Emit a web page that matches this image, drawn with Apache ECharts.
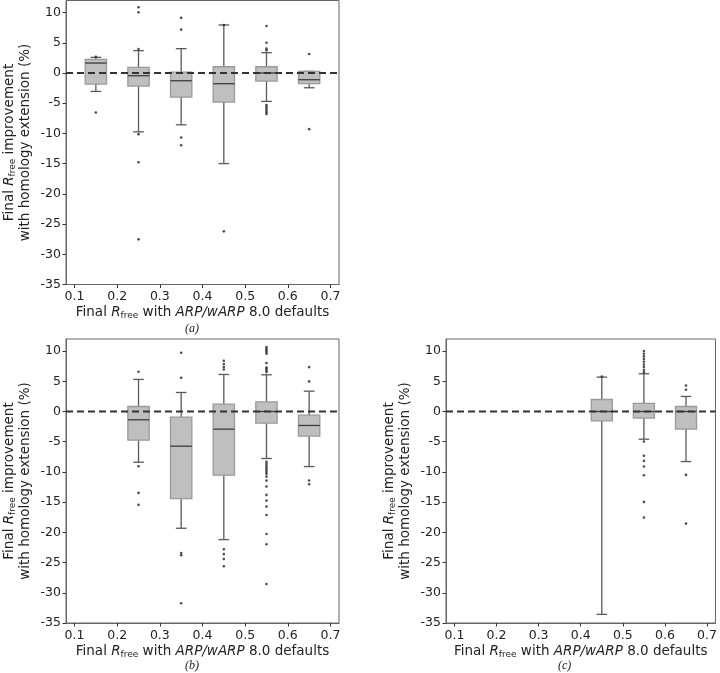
<!DOCTYPE html>
<html><head><meta charset="utf-8">
<script src="https://cdn.jsdelivr.net/npm/echarts@6/dist/echarts.min.js"></script>
<style>html,body{margin:0;padding:0;background:#fff}#c{width:720px;height:673px}</style>
</head><body><div id="c"></div>
<script>
const xTicks = [0.1, 0.2, 0.3, 0.4, 0.5, 0.6, 0.7];
const yTicks = [-35, -30, -25, -20, -15, -10, -5, 0, 5, 10];
// [position, lower whisker, Q1, median, Q3, upper whisker]
const boxesA = [
  [0.15, -3.05, -1.83, 1.65, 2.26, 2.59],
  [0.25, -9.73, -2.16, -0.45, 0.93, 3.70],
  [0.35, -8.57, -3.99, -1.28, 0.16, 4.03],
  [0.45, -14.99, -4.81, -1.77, 1.04, 7.95],
  [0.55, -4.70, -1.33, 0.0, 1.04, 3.37],
  [0.65, -2.44, -1.77, -1.11, 0.27, 0.27]
];
const outliersA = [[0.15,2.7],[0.15,-6.53],[0.25,10.88],[0.25,10.06],[0.25,3.97],[0.25,-10.12],[0.25,-14.77],[0.25,-27.53],[0.35,9.12],[0.35,7.18],[0.35,-10.67],[0.35,-11.95],[0.45,7.95],[0.45,-26.2],[0.55,7.79],[0.55,5.02],[0.55,4.03],[0.55,3.75],[0.55,-5.3],[0.55,-5.6],[0.55,-5.9],[0.55,-6.2],[0.55,-6.5],[0.55,-6.8],[0.65,3.15],[0.65,-9.29]];
const boxesB = [
  [0.25, -8.39, -4.74, -1.37, 0.83, 5.31],
  [0.35, -19.32, -14.41, -5.74, -0.93, 3.15],
  [0.45, -21.2, -10.54, -2.92, 1.22, 6.13],
  [0.55, -7.78, -1.93, 0.0, 1.6, 6.08],
  [0.65, -9.11, -4.08, -2.31, -0.61, 3.37]
];
const outliersB = [[0.25,6.58],[0.25,-9.05],[0.25,-13.47],[0.25,-15.45],[0.35,9.72],[0.35,5.58],[0.35,-23.41],[0.35,-23.79],[0.35,-31.74],[0.45,8.4],[0.45,7.85],[0.45,7.35],[0.45,6.96],[0.45,-22.8],[0.45,-23.6],[0.45,-24.4],[0.45,-25.6],[0.55,10.66],[0.55,10.39],[0.55,10.11],[0.55,9.83],[0.55,9.56],[0.55,8.01],[0.55,7.29],[0.55,7.07],[0.55,6.8],[0.55,6.52],[0.55,-8.33],[0.55,-8.66],[0.55,-9.0],[0.55,-9.33],[0.55,-9.66],[0.55,-9.99],[0.55,-10.32],[0.55,-10.77],[0.55,-11.43],[0.55,-12.42],[0.55,-13.8],[0.55,-14.74],[0.55,-15.74],[0.55,-17.12],[0.55,-20.26],[0.55,-21.97],[0.55,-28.54],[0.65,7.35],[0.65,4.98],[0.65,-11.42],[0.65,-12.03]];
const boxesC = [
  [0.45, -33.57, -1.54, 0.0, 1.99, 5.69],
  [0.55, -4.58, -1.1, 0.0, 1.33, 6.25],
  [0.65, -8.28, -2.92, 0.0, 0.83, 2.49]
];
const outliersC = [[0.45,5.8],[0.55,10.0],[0.55,9.56],[0.55,9.12],[0.55,8.67],[0.55,8.23],[0.55,7.79],[0.55,7.35],[0.55,6.85],[0.55,6.47],[0.55,-4.96],[0.55,-7.34],[0.55,-8.17],[0.55,-9.1],[0.55,-10.54],[0.55,-14.96],[0.55,-17.55],[0.65,4.31],[0.65,3.59],[0.65,-10.49],[0.65,-18.55]];
const zeroLine = [[0.08, 0], [0.72, 0]];
const captions = ['(a)', '(b)', '(c)'];

const X_MIN = 0.08, X_MAX = 0.72, Y_MIN = -35, Y_MAX = 12;
const BOX_HALF = 0.025, CAP_HALF = 0.0125;
const FONT = 'DejaVu Sans';

function renderBox(params, api) {
  const x = api.value(0), lo = api.value(1), q1 = api.value(2), med = api.value(3), q3 = api.value(4), hi = api.value(5);
  const cx = api.coord([x, 0])[0];
  const xl = api.coord([x - BOX_HALF, 0])[0], xr = api.coord([x + BOX_HALF, 0])[0];
  const cl = api.coord([x - CAP_HALF, 0])[0], cr = api.coord([x + CAP_HALF, 0])[0];
  const yLo = api.coord([x, lo])[1], yQ1 = api.coord([x, q1])[1], yMed = api.coord([x, med])[1];
  const yQ3 = api.coord([x, q3])[1], yHi = api.coord([x, hi])[1];
  const wStyle = {stroke: '#5a5a5a', lineWidth: 1.3};
  return {type: 'group', children: [
    {type: 'line', shape: {x1: cx, y1: yLo, x2: cx, y2: yQ1}, style: wStyle},
    {type: 'line', shape: {x1: cx, y1: yQ3, x2: cx, y2: yHi}, style: wStyle},
    {type: 'line', shape: {x1: cl, y1: yLo, x2: cr, y2: yLo}, style: wStyle},
    {type: 'line', shape: {x1: cl, y1: yHi, x2: cr, y2: yHi}, style: wStyle},
    {type: 'rect', shape: {x: xl, y: yQ3, width: xr - xl, height: yQ1 - yQ3}, style: {fill: '#bfbfbf', stroke: '#9a9a9a', lineWidth: 1.3}},
    {type: 'line', shape: {x1: xl, y1: yMed, x2: xr, y2: yMed}, style: {stroke: '#3c3c3c', lineWidth: 1.3}}
  ]};
}

const rich = {
  n: {fontFamily: FONT, fontSize: 13.5, color: '#222', lineHeight: 16},
  i: {fontFamily: FONT, fontSize: 13.5, color: '#222', fontStyle: 'italic', lineHeight: 16},
  s: {fontFamily: FONT, fontSize: 9, color: '#222', lineHeight: 9, verticalAlign: 'bottom'}
};
const xName = '{n|Final }{i|R}{s|free}{n| with }{i|ARP/wARP}{n| 8.0 defaults}';
const yName = '{n|Final }{i|R}{s|free}{n| improvement}\n{n|with homology extension (%)}';

const grids = [
  {left: 66, top: 0.5, width: 273, height: 284},
  {left: 66, top: 339, width: 273, height: 284},
  {left: 446, top: 339, width: 273, height: 284}
];
const boxesAll = [boxesA, boxesB, boxesC];
const outAll = [outliersA, outliersB, outliersC];

const option = {
  animation: false,
  backgroundColor: '#fff',
  grid: grids.map(g => Object.assign({show: true, borderColor: '#666', borderWidth: 1, backgroundColor: 'transparent'}, g)),
  xAxis: grids.map((g, k) => ({
    type: 'value', gridIndex: k, min: X_MIN, max: X_MAX,
    axisLine: {show: true, onZero: false, lineStyle: {color: '#666'}},
    axisTick: {show: true, customValues: xTicks, length: 3.5, lineStyle: {color: '#333'}},
    axisLabel: {customValues: xTicks, fontFamily: FONT, fontSize: 12.5, color: '#222', margin: 6, formatter: v => v.toFixed(1)},
    splitLine: {show: false},
    name: xName, nameLocation: 'middle', nameGap: 20,
    nameTextStyle: {rich: rich}
  })),
  yAxis: grids.map((g, k) => ({
    type: 'value', gridIndex: k, min: Y_MIN, max: Y_MAX,
    axisLine: {show: true, onZero: false, lineStyle: {color: '#666'}},
    axisTick: {show: true, customValues: yTicks, length: 3.5, lineStyle: {color: '#333'}},
    axisLabel: {customValues: yTicks, fontFamily: FONT, fontSize: 12.5, color: '#222', margin: 5},
    splitLine: {show: false},
    name: yName, nameLocation: 'middle', nameGap: 33, nameRotate: 90,
    nameTextStyle: {rich: rich, align: 'center'}
  })),
  series: [],
  graphic: [
    {type: 'text', left: 185, top: 323, style: {text: captions[0], font: 'italic 12px "Liberation Serif"', fill: '#222'}},
    {type: 'text', left: 185, top: 660, style: {text: captions[1], font: 'italic 12px "Liberation Serif"', fill: '#222'}},
    {type: 'text', left: 558, top: 660, style: {text: captions[2], font: 'italic 12px "Liberation Serif"', fill: '#222'}}
  ]
};
for (let k = 0; k < 3; k++) {
  option.series.push({
    type: 'custom', xAxisIndex: k, yAxisIndex: k, renderItem: renderBox,
    encode: {x: 0, y: [1, 2, 3, 4, 5]}, data: boxesAll[k], z: 2, clip: false
  });
  option.series.push({
    type: 'line', xAxisIndex: k, yAxisIndex: k, data: zeroLine, symbol: 'none', z: 3,
    lineStyle: {color: '#333', width: 2, type: [7, 4]}
  });
  option.series.push({
    type: 'scatter', xAxisIndex: k, yAxisIndex: k, data: outAll[k], symbol: 'circle', symbolSize: 2.6, z: 4,
    itemStyle: {color: '#222'}
  });
}
const chart = echarts.init(document.getElementById('c'), null, {renderer: 'canvas'});
chart.setOption(option);
</script></body></html>
